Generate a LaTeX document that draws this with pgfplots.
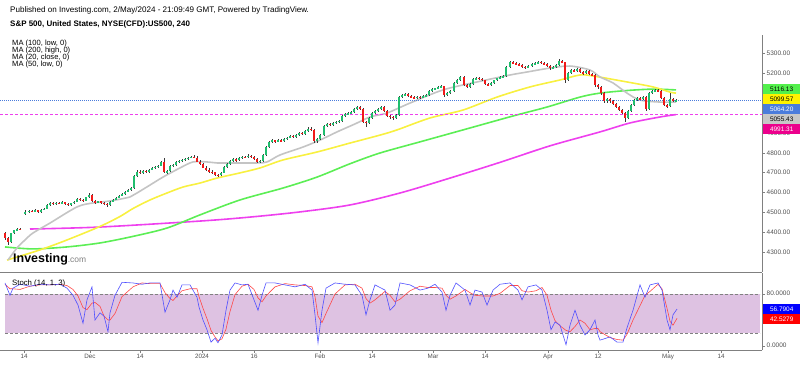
\documentclass[border=0pt]{standalone}
\usepackage{fontspec}
\setmainfont{Liberation Sans}
\usepackage{graphicx}
\usepackage{pgfplots}
\usepackage{pgfplotstable}
\pgfplotsset{compat=1.18}
\definecolor{cup}{HTML}{20BE6E}
\definecolor{cdn}{HTML}{F01A1A}
\definecolor{wick}{HTML}{3A3A3A}
\definecolor{maA}{HTML}{C4C4C4}
\definecolor{maB}{HTML}{F8F040}
\definecolor{maC}{HTML}{5CEE55}
\definecolor{maD}{HTML}{EE40EE}
\definecolor{band}{HTML}{DEC2E2}
\definecolor{stk}{HTML}{5050FF}
\definecolor{std}{HTML}{FF4848}
\definecolor{pxblue}{HTML}{4A7CDC}
\definecolor{axg}{HTML}{808080}
\definecolor{labg}{HTML}{505050}
\newcommand\fs[1]{\fontsize{#1}{#1}\selectfont}

\pgfplotstableread{
x o h l c
5 4395 4402 4362 4370
8 4370 4378 4338 4350
11 4350 4398 4345 4395
14 4395 4412 4390 4410
17 4410 4422 4405 4418
20 4418 4424 4410 4415
25 4495 4512 4488 4505
29 4505 4515 4500 4510
32 4510 4514 4502 4506
35 4506 4516 4503 4512
38 4512 4515 4500 4504
41 4504 4518 4500 4515
44 4515 4524 4511 4520
47 4520 4545 4516 4540
50 4540 4552 4535 4548
53 4548 4553 4540 4544
56 4544 4555 4540 4550
59 4550 4554 4542 4547
62 4547 4556 4543 4552
65 4552 4555 4540 4544
68 4544 4548 4533 4538
71 4538 4550 4535 4548
74 4548 4558 4545 4555
77 4555 4575 4552 4570
80 4570 4574 4560 4564
83 4564 4568 4555 4560
86 4560 4580 4557 4576
89 4576 4597 4572 4590
92 4590 4594 4555 4560
95 4560 4565 4545 4550
98 4550 4560 4546 4556
101 4556 4560 4544 4548
104 4548 4552 4538 4543
107 4543 4547 4530 4538
110 4538 4558 4535 4555
113 4555 4568 4552 4565
116 4565 4578 4561 4575
119 4575 4588 4572 4585
122 4585 4598 4582 4595
125 4595 4608 4590 4605
128 4605 4618 4601 4614
131 4614 4628 4610 4625
134 4625 4690 4620 4682
137 4682 4712 4676 4705
140 4705 4712 4694 4700
143 4700 4715 4696 4710
146 4710 4714 4700 4704
149 4704 4720 4700 4716
152 4716 4728 4712 4725
155 4725 4734 4720 4730
158 4730 4740 4726 4736
161 4736 4758 4732 4755
164 4755 4772 4698 4702
167 4702 4714 4695 4710
170 4710 4740 4706 4736
173 4736 4745 4730 4740
176 4740 4758 4736 4755
179 4755 4764 4750 4760
182 4760 4768 4755 4765
185 4765 4774 4760 4770
188 4770 4780 4766 4776
191 4776 4786 4772 4780
194 4780 4790 4772 4776
197 4776 4782 4752 4756
200 4756 4762 4740 4745
203 4745 4750 4722 4726
206 4726 4732 4710 4716
209 4716 4722 4700 4705
212 4705 4712 4695 4702
215 4702 4706 4685 4690
218 4690 4695 4680 4686
221 4686 4705 4682 4700
224 4700 4735 4696 4730
227 4730 4750 4726 4745
230 4745 4764 4740 4760
233 4760 4772 4755 4768
236 4768 4772 4756 4762
239 4762 4780 4758 4775
242 4775 4786 4770 4780
245 4780 4785 4772 4777
248 4777 4792 4773 4786
251 4786 4790 4776 4780
254 4780 4784 4765 4770
257 4770 4774 4748 4755
260 4755 4765 4750 4760
263 4760 4795 4756 4790
266 4790 4832 4786 4828
269 4828 4858 4824 4854
272 4854 4868 4848 4862
275 4862 4866 4850 4856
278 4856 4870 4852 4865
281 4865 4870 4852 4858
284 4858 4874 4855 4870
287 4870 4880 4865 4876
290 4876 4890 4872 4886
293 4886 4890 4874 4880
296 4880 4895 4876 4890
299 4890 4905 4886 4900
302 4900 4906 4890 4895
305 4895 4915 4891 4910
308 4910 4928 4906 4922
311 4922 4928 4910 4915
314 4915 4920 4850 4858
317 4858 4875 4848 4870
320 4870 4895 4866 4890
324 4890 4940 4886 4935
327 4935 4950 4930 4945
330 4945 4950 4935 4940
333 4940 4955 4936 4950
336 4950 4960 4945 4955
339 4955 4965 4950 4960
342 4960 4990 4956 4985
345 4985 5000 4980 4995
348 4995 5005 4990 5000
351 5000 5010 4995 5005
354 5005 5024 5000 5020
357 5020 5035 5015 5030
360 5030 5034 5016 5020
363 5020 5024 4950 4956
366 4956 4962 4930 4950
369 4950 4980 4946 4975
372 4975 5004 4970 5000
375 5000 5014 4995 5010
378 5010 5024 5005 5020
381 5020 5034 5015 5030
384 5030 5034 5005 5010
387 5010 5014 4980 4986
390 4986 4992 4972 4980
393 4980 4984 4966 4975
396 4975 4995 4970 4990
399 4990 5085 4986 5080
402 5080 5096 5075 5090
405 5090 5100 5084 5095
408 5095 5100 5080 5085
411 5085 5090 5074 5080
414 5080 5084 5068 5074
417 5074 5086 5070 5082
420 5082 5086 5072 5078
423 5078 5090 5074 5085
426 5085 5094 5080 5090
429 5090 5115 5086 5110
432 5110 5124 5106 5120
435 5120 5128 5114 5125
438 5125 5134 5120 5130
441 5130 5140 5125 5135
444 5135 5138 5080 5090
447 5090 5104 5084 5100
450 5100 5114 5096 5110
454 5110 5155 5106 5150
457 5150 5170 5146 5165
460 5165 5186 5160 5180
464 5180 5184 5136 5140
467 5140 5145 5124 5130
470 5130 5150 5126 5145
473 5145 5174 5140 5170
476 5170 5180 5165 5176
479 5176 5180 5166 5172
482 5172 5176 5160 5165
485 5165 5168 5140 5145
488 5145 5150 5134 5140
491 5140 5155 5136 5150
494 5150 5168 5146 5165
497 5165 5178 5160 5175
500 5175 5184 5170 5180
503 5180 5190 5175 5186
506 5186 5235 5182 5230
510 5230 5262 5226 5255
513 5255 5262 5244 5250
516 5250 5256 5240 5245
519 5245 5250 5234 5240
522 5240 5244 5226 5232
525 5232 5236 5220 5228
528 5228 5240 5224 5235
532 5235 5250 5230 5245
535 5245 5255 5240 5250
538 5250 5262 5246 5256
541 5256 5260 5246 5252
544 5252 5256 5240 5245
547 5245 5250 5230 5235
550 5235 5240 5218 5225
553 5225 5234 5220 5230
556 5230 5244 5226 5240
559 5240 5272 5236 5262
562 5262 5266 5250 5255
565 5255 5258 5150 5165
568 5165 5205 5160 5200
571 5200 5220 5195 5215
574 5215 5220 5205 5210
577 5210 5225 5206 5220
580 5220 5224 5200 5205
583 5205 5210 5192 5200
586 5200 5214 5196 5210
589 5210 5214 5190 5195
592 5195 5200 5184 5190
595 5190 5194 5132 5140
598 5140 5146 5122 5130
601 5130 5134 5092 5100
604 5100 5104 5052 5058
607 5058 5075 5052 5070
610 5070 5074 5052 5060
613 5060 5064 5040 5045
616 5045 5050 5025 5030
619 5030 5036 5010 5015
622 5015 5020 4995 5000
625 5000 5004 4953 4975
628 4975 5015 4970 5010
631 5010 5045 5005 5040
634 5040 5070 5035 5065
637 5065 5080 5060 5075
640 5075 5080 5064 5070
643 5070 5086 5066 5080
646 5080 5084 5012 5020
649 5020 5104 5016 5100
652 5100 5114 5096 5110
655 5110 5122 5106 5116
658 5116 5122 5104 5110
661 5110 5114 5070 5075
664 5075 5080 5036 5040
667 5040 5046 5026 5035
670 5035 5100 5030 5068
673 5068 5074 5054 5060
676 5060 5072 5056 5064
}\candles

\pgfplotstableread{
x k
5 97
10 78
13 89
20 95
30 92
40 95
50 94
60 95
67 89
73 78
78 63
83 35
87 71
92 91
95 40
100 51
104 46
108 22
110 51
115 78
122 98
133 97
142 95
150 97
160 97
165 52
170 71
173 86
177 75
182 94
190 94
197 75
199 60
203 40
207 25
211 6
215 12
218 5
222 17
226 55
230 86
235 97
242 94
248 95
254 71
258 55
262 78
266 97
275 97
285 94
295 91
305 95
312 86
315 48
318 5
322 55
326 89
335 97
345 95
355 94
362 78
366 48
370 71
375 94
385 86
390 55
395 63
400 97
410 94
420 86
428 89
435 95
442 83
446 55
450 78
456 97
465 86
470 63
475 86
482 83
487 63
493 86
500 95
510 97
518 86
522 71
528 91
536 94
542 86
547 55
551 25
555 37
560 32
566 2
570 32
575 55
580 32
585 17
590 25
595 40
598 17
600 9
610 14
617 6
623 6
627 28
633 55
640 94
645 75
650 94
658 97
662 86
667 40
670 25
673 48
677 56.79
}\stochk

\pgfplotstableread{
x d
5 95
10 88
13 88
20 87
30 92
40 94
50 94
60 95
67 93
73 87
78 77
83 59
87 56
92 66
95 67
100 61
104 46
108 40
110 40
115 50
122 76
133 91
142 97
150 96
160 96
165 82
170 73
173 70
177 77
182 85
190 88
197 88
199 76
203 58
207 42
211 24
215 14
218 8
222 11
226 26
230 53
235 79
242 92
248 95
254 87
258 74
262 68
266 77
275 91
285 96
295 94
305 93
312 91
315 76
318 46
322 36
326 50
335 80
345 94
355 95
362 89
366 73
370 66
375 71
385 84
390 78
395 68
400 72
410 85
420 92
428 90
435 90
442 89
446 78
450 72
456 77
465 87
470 82
475 78
482 77
487 77
493 77
500 81
510 93
518 93
522 85
528 83
536 85
542 90
547 78
551 55
555 39
560 31
566 24
570 22
575 30
580 40
585 35
590 25
595 27
598 27
600 22
610 13
617 10
623 9
627 18
633 40
640 62
645 78
650 84
658 95
662 88
667 58
670 38
673 32
677 42.53
}\stochd

\begin{document}
\begin{tikzpicture}[x=1bp,y=1bp]
\useasboundingbox (0,0) rectangle (800,365);

% ---------------- main price panel ----------------
\begin{axis}[
  at={(0bp,93bp)}, anchor=south west, scale only axis,
  width=762bp, height=237bp,
  xmin=0, xmax=762, ymin=4201, ymax=5392,
  axis x line=none, axis y line*=right,
  axis line style={axg, line width=0.5bp},
  ytick={4300,4400,4500,4600,4700,4800,4900,5000,5100,5200,5300},
  yticklabels={4300.00,4400.00,4500.00,4600.00,4700.00,4800.00,4900.00,,,5200.00,5300.00},
  tick align=outside, major tick length=3bp,
  tick style={axg, line width=0.5bp},
  yticklabel style={font=\fs{6.5}, text=labg, inner sep=1.5bp},
]
% moving averages
\addplot[maD, line width=1.6bp, smooth] coordinates {(30,4417) (100,4427) (200,4457) (250,4477) (300,4503) (350,4538) (400,4598) (450,4673) (500,4752) (550,4835) (600,4905) (630,4950) (660,4980) (676,4992)};
\addplot[maC, line width=1.6bp, smooth] coordinates {(5,4327) (33,4317) (67,4327) (100,4347) (133,4380) (167,4422) (200,4488) (240,4563) (283,4623) (317,4678) (350,4745) (380,4799) (420,4855) (463,4915) (513,4985) (547,5030) (580,5080) (600,5100) (627,5113) (653,5120) (676,5116)};
\addplot[maB, line width=1.6bp, smooth] coordinates {(7,4261) (40,4312) (67,4362) (100,4430) (120,4480) (133,4520) (150,4563) (167,4598) (183,4628) (200,4648) (217,4673) (240,4699) (260,4724) (283,4764) (317,4804) (350,4849) (380,4889) (397,4915) (430,4975) (463,5015) (497,5080) (530,5131) (560,5166) (580,5191) (593,5186) (627,5156) (653,5131) (670,5105) (676,5100)};
\addplot[maA, line width=1.6bp, smooth] coordinates {(8,4261) (17,4322) (25,4362) (33,4397) (50,4447) (77,4528) (93,4548) (110,4558) (130,4578) (137,4598) (150,4638) (163,4678) (180,4724) (193,4754) (207,4754) (217,4749) (230,4749) (257,4749) (267,4754) (280,4789) (303,4829) (320,4864) (337,4905) (355,4945) (370,4980) (387,5000) (410,5050) (443,5116) (477,5156) (510,5191) (527,5206) (550,5226) (570,5236) (590,5216) (600,5181) (613,5151) (627,5100) (640,5065) (660,5055) (676,5055)};
% horizontal price lines
\addplot[maD, line width=1.1bp, dash pattern=on 3bp off 2bp] coordinates {(0,4991.31) (762,4991.31)};
\addplot[pxblue, line width=0.6bp, dash pattern=on 0.8bp off 1.2bp] coordinates {(0,5064.2) (762,5064.2)};
% candles: wicks
\addplot[only marks, mark=*, mark size=0.01pt, mark options={draw opacity=0, fill opacity=0},
  error bars/.cd, y dir=both, y explicit, error mark=none,
  error bar style={line width=0.5bp, wick}]
  table[x=x, y expr={(\thisrow{h}+\thisrow{l})/2}, y error expr={(\thisrow{h}-\thisrow{l})/2}] {\candles};
% candles: bodies up
\addplot[only marks, mark=*, mark size=0.01pt, mark options={draw opacity=0, fill opacity=0},
  restrict expr to domain={\thisrow{c}-\thisrow{o}}{0:2000},
  error bars/.cd, y dir=both, y explicit, error mark=none,
  error bar style={line width=2.1bp, cup}]
  table[x=x, y expr={(\thisrow{o}+\thisrow{c})/2}, y error expr={max(abs(\thisrow{c}-\thisrow{o})/2,1.5)}] {\candles};
% candles: bodies down
\addplot[only marks, mark=*, mark size=0.01pt, mark options={draw opacity=0, fill opacity=0},
  restrict expr to domain={\thisrow{c}-\thisrow{o}}{-2000:-0.01},
  error bars/.cd, y dir=both, y explicit, error mark=none,
  error bar style={line width=2.1bp, cdn}]
  table[x=x, y expr={(\thisrow{o}+\thisrow{c})/2}, y error expr={max(abs(\thisrow{c}-\thisrow{o})/2,1.5)}] {\candles};
\draw[axg, line width=0.6bp] (axis cs:0,4201) -- (axis cs:762,4201);
\end{axis}

% ---------------- stochastic panel ----------------
\begin{axis}[
  at={(0bp,15bp)}, anchor=south west, scale only axis,
  width=762bp, height=77bp,
  xmin=0, xmax=762, ymin=-6.15, ymax=112.3,
  axis x line*=bottom, axis y line*=right,
  axis line style={axg, line width=0.5bp},
  xtick={24,90,140,202,254,320,372,433,485,548,598,668,721},
  xticklabels={14,Dec,14,2024,16,Feb,14,Mar,14,Apr,12,May,14},
  ytick={0,80},
  yticklabels={0.0000,80.0000},
  typeset ticklabels with strut,
  tick align=outside, major tick length=3bp,
  tick style={axg, line width=0.5bp},
  yticklabel style={font=\fs{6.5}, text=labg, inner sep=1.5bp},
  xticklabel style={font=\fs{6.3}, text=labg, inner sep=1bp},
]
\addplot[draw=none, fill=band] coordinates {(5,20) (760,20) (760,80) (5,80)} -- cycle;
\addplot[axg, line width=0.6bp, dash pattern=on 3bp off 2bp] coordinates {(5,20) (760,20)};
\addplot[axg, line width=0.6bp, dash pattern=on 3bp off 2bp] coordinates {(5,80) (760,80)};
\addplot[std, line width=0.6bp] table[x=x, y=d] {\stochd};
\addplot[stk, line width=0.6bp] table[x=x, y=k] {\stochk};
\end{axis}

% ---------------- texts ----------------
\node[anchor=west, inner sep=0] at (10,355) {\fs{8.1}Published on Investing.com, 2/May/2024 - 21:09:49 GMT, Powered by TradingView.};
\node[anchor=west, inner sep=0] at (10,340.5) {\fs{8}\bfseries S\&P 500, United States, NYSE(CFD):US500, 240};
\node[anchor=west, inner sep=0] at (12,321) {\fs{7.6}MA (100, low, 0)};
\node[anchor=west, inner sep=0] at (12,314) {\fs{7.6}MA (200, high, 0)};
\node[anchor=west, inner sep=0] at (12,307) {\fs{7.6}MA (20, close, 0)};
\node[anchor=west, inner sep=0] at (12,300) {\fs{7.6}MA (50, low, 0)};
\node[anchor=west, inner sep=0] at (12,82) {\fs{7.8}Stoch (14, 1, 3)};
\node[anchor=base west, inner sep=0] at (13,103) {\fs{12.5}\bfseries Investing\fs{8.5}\mdseries\textcolor{gray}{.com}};

% right-side value labels
\node[anchor=west, fill=maC!90!green, minimum width=37bp, minimum height=10bp, inner sep=0, font=\fs{6.5}] at (763,276) {5116.13};
\node[anchor=west, fill=yellow, minimum width=37bp, minimum height=10bp, inner sep=0, font=\fs{6.5}] at (763,266) {5099.57};
\node[anchor=west, fill=pxblue, text=white, minimum width=37bp, minimum height=10bp, inner sep=0, font=\fs{6.5}] at (763,256) {5064.20};
\node[anchor=west, fill=black!22, minimum width=37bp, minimum height=10bp, inner sep=0, font=\fs{6.5}] at (763,246) {5055.43};
\node[anchor=west, fill=magenta, text=white, minimum width=37bp, minimum height=10bp, inner sep=0, font=\fs{6.5}] at (763,236) {4991.31};
\node[anchor=west, fill=blue, text=white, minimum width=37bp, minimum height=10bp, inner sep=0, font=\fs{6.5}] at (763,56) {56.7904};
\node[anchor=west, fill=red, text=white, minimum width=37bp, minimum height=10bp, inner sep=0, font=\fs{6.5}] at (763,46) {42.5279};
\end{tikzpicture}
\end{document}
